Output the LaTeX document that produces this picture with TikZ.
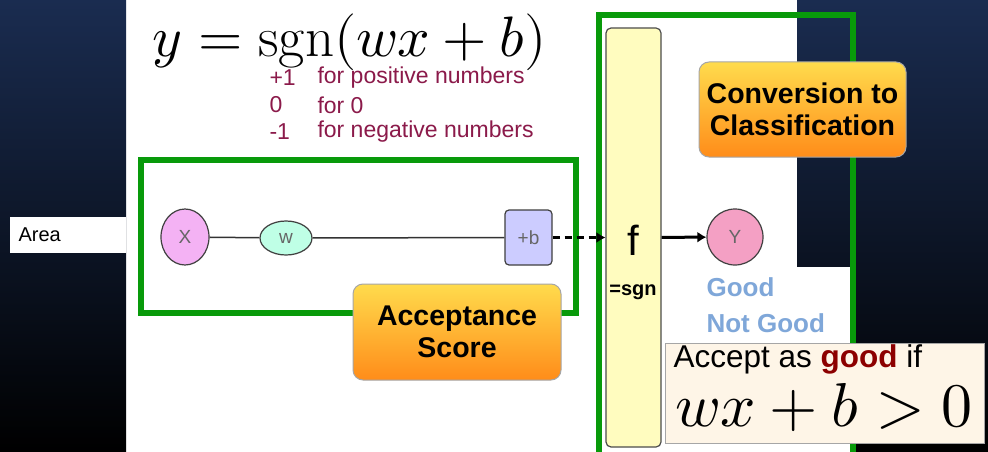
\documentclass[tikz,border=0pt]{standalone}
\usepackage{fontspec}
\usepackage{unicode-math}
\setmainfont{Liberation Sans}
\setmathfont{Latin Modern Math}
\setmathrm{Latin Modern Roman}
\usetikzlibrary{arrows.meta,shapes.geometric}
\definecolor{navy}{HTML}{1A2C50}
\definecolor{grn}{HTML}{089A0A}
\definecolor{dred}{HTML}{8B1A4A}
\definecolor{lblue}{HTML}{7FA7D9}
\definecolor{ypink}{HTML}{F4A0C4}
\tikzset{
 dark/.style={top color=navy,bottom color=black,draw=none},
 gbox/.style={draw=grn,line width=6pt},
 orange/.style={draw=gray!70,rounded corners=10pt,top color=orange!40!yellow!70,bottom color=orange!90,line width=1pt,align=center,font=\bfseries\fontsize{28.5}{32}\selectfont},
 nd/.style={draw=black!75,line width=1.2pt,text=black!60,font=\fontsize{19}{22}\selectfont},
 lst/.style={text=dred,font=\fontsize{23}{26}\selectfont,anchor=west},
}
\begin{document}
\begin{tikzpicture}[x=1pt,y=-1pt]
\useasboundingbox (0,0) rectangle (988,452);
\fill[white] (0,0) rectangle (988,452);
\shade[dark] (0,0) rectangle (126,452);
\shade[dark] (797,0) rectangle (988,452);
\fill[white] (797,267) rectangle (851,452);
\node[fill=white,minimum width=116pt,minimum height=36pt,inner sep=0pt,anchor=north west] (area) at (10,217) {};
\node[anchor=west,font=\fontsize{20}{24}\selectfont] (arealbl) at (15,235) {Area};
\node (eq) at (350,42) {\fontsize{57}{62}\selectfont$y=\mathrm{sgn}(wx+b)$};
\node[lst] (l1) at (266,78) {+1}; \node[lst] (t1) at (314,78) {for positive numbers};
\node[lst] (l2) at (266,105) {0}; \node[lst] (t2) at (314,105) {for 0};
\node[lst] (l3) at (266,132) {-1}; \node[lst] (t3) at (314,132) {for negative numbers};
\draw[gbox] (141,160) rectangle (576,313);
\draw[gbox] (599,462) -- (599,15) -- (853,15) -- (853,462);
\node[draw=black!70,fill=yellow!25,rounded corners=5pt,line width=1.2pt,minimum width=55pt,minimum height=419pt,inner sep=0pt] (f) at (633.5,237.5) {};
\node[font=\fontsize{42}{46}\selectfont] (flbl) at (633,240) {f};
\node[font=\bfseries\fontsize{20}{24}\selectfont] (sgn) at (633,292) {=sgn};
\node[nd,ellipse,fill=violet!30!magenta!30,minimum width=48pt,minimum height=56pt,inner sep=0pt] (x) at (185,237) {X};
\node[nd,ellipse,fill=green!40!cyan!25,minimum width=52pt,minimum height=34pt,inner sep=0pt] (w) at (286,238) {w};
\node[nd,fill=blue!20,rounded corners=4pt,minimum width=47pt,minimum height=55pt,inner sep=0pt] (b) at (528.5,237.5) {+b};
\node[nd,circle,fill=ypink,minimum size=56pt,inner sep=0pt] (y) at (735,237) {Y};
\draw[line width=1.5pt,black!80] (x) -- (w) -- (b);
\draw[line width=3pt,dash pattern=on 7pt off 5pt,-{Latex[length=9pt,width=11pt]}] (b) -- (f);
\draw[line width=3pt,-{Latex[length=9pt,width=11pt]}] (f) -- (y);
\node[anchor=west,text=lblue,font=\bfseries\fontsize{26}{30}\selectfont] (good) at (703,287) {Good};
\node[anchor=west,text=lblue,font=\bfseries\fontsize{26}{30}\selectfont] (ngood) at (703,323) {Not Good};
\node[orange,minimum width=207pt,minimum height=95pt] (conv) at (802.5,109.5) {Conversion to\\Classification};
\node[orange,minimum width=208pt,minimum height=96pt] (acc) at (457,332) {Acceptance\\Score};
\node[draw=gray!70,fill=yellow!15!orange!8,line width=1pt,minimum width=319pt,minimum height=100pt,inner sep=0pt] (ab) at (824.5,393) {};
\node[anchor=west,font=\fontsize{31.5}{34}\selectfont] (abt) at (670,359) {Accept as \textcolor{red!55!black}{\bfseries good} if};
\node (abf) at (824,408) {\fontsize{62}{66}\selectfont$wx+b>0$};
\end{tikzpicture}
\end{document}
